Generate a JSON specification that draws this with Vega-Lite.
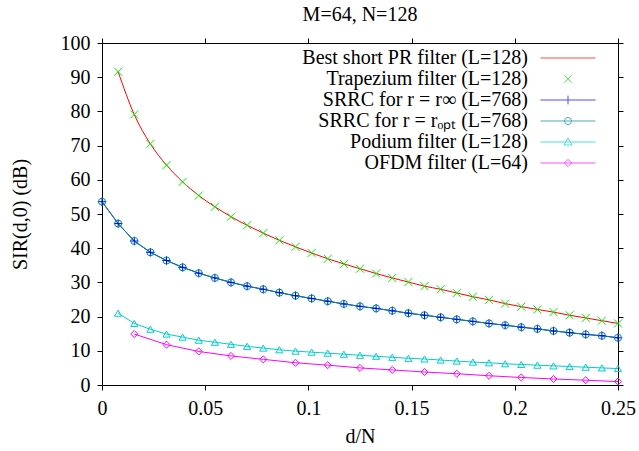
{
  "$schema": "https://vega.github.io/schema/vega-lite/v6.json",
  "width": 516,
  "height": 342,
  "autosize": {"type": "none"},
  "padding": {"left": 102, "top": 43, "right": 21, "bottom": 66},
  "background": "white",
  "title": {"text": "M=64, N=128", "font": "Liberation Serif", "fontSize": 20, "fontWeight": "normal", "color": "black", "offset": 8},
  "config": {
    "view": {"stroke": "black", "strokeWidth": 1},
    "axis": {"domain": false, "grid": false, "ticks": true, "tickColor": "#000000", "tickWidth": 1, "tickSize": 5,
      "labelFont": "Liberation Serif", "labelFontSize": 20, "labelColor": "black",
      "titleFont": "Liberation Serif", "titleFontSize": 20, "titleFontWeight": "normal", "titleColor": "black"},
    "legend": {"labelFont": "Liberation Serif", "labelFontSize": 20, "labelColor": "black", "symbolStrokeWidth": 1, "symbolSize": 256, "symbolFillColor": "transparent"}
  },
  "data": {"values": [
    {"s":"pr","x":0.0078125,"y":91.6},{"s":"pr","x":0.015625,"y":79.1},{"s":"pr","x":0.0234375,"y":70.5},{"s":"pr","x":0.03125,"y":64.3},
    {"s":"pr","x":0.0390625,"y":59.4},{"s":"pr","x":0.046875,"y":55.4},{"s":"pr","x":0.0546875,"y":52.1},{"s":"pr","x":0.0625,"y":49.2},
    {"s":"pr","x":0.0703125,"y":46.7},{"s":"pr","x":0.078125,"y":44.4},{"s":"pr","x":0.0859375,"y":42.3},{"s":"pr","x":0.09375,"y":40.4},
    {"s":"pr","x":0.1015625,"y":38.6},{"s":"pr","x":0.109375,"y":36.9},{"s":"pr","x":0.1171875,"y":35.4},{"s":"pr","x":0.125,"y":34.0},
    {"s":"pr","x":0.1328125,"y":32.6},{"s":"pr","x":0.140625,"y":31.3},{"s":"pr","x":0.1484375,"y":30.1},{"s":"pr","x":0.15625,"y":28.9},
    {"s":"pr","x":0.1640625,"y":28.0},{"s":"pr","x":0.171875,"y":26.9},{"s":"pr","x":0.1796875,"y":25.8},{"s":"pr","x":0.1875,"y":24.9},
    {"s":"pr","x":0.1953125,"y":23.8},{"s":"pr","x":0.203125,"y":22.9},{"s":"pr","x":0.2109375,"y":22.1},{"s":"pr","x":0.21875,"y":21.3},
    {"s":"pr","x":0.2265625,"y":20.4},{"s":"pr","x":0.234375,"y":19.6},{"s":"pr","x":0.2421875,"y":18.8},{"s":"pr","x":0.25,"y":18.0},
    {"s":"trap","x":0.0078125,"y":91.6},{"s":"trap","x":0.015625,"y":79.1},{"s":"trap","x":0.0234375,"y":70.5},{"s":"trap","x":0.03125,"y":64.3},
    {"s":"trap","x":0.0390625,"y":59.4},{"s":"trap","x":0.046875,"y":55.4},{"s":"trap","x":0.0546875,"y":52.1},{"s":"trap","x":0.0625,"y":49.2},
    {"s":"trap","x":0.0703125,"y":46.7},{"s":"trap","x":0.078125,"y":44.4},{"s":"trap","x":0.0859375,"y":42.3},{"s":"trap","x":0.09375,"y":40.4},
    {"s":"trap","x":0.1015625,"y":38.6},{"s":"trap","x":0.109375,"y":36.9},{"s":"trap","x":0.1171875,"y":35.4},{"s":"trap","x":0.125,"y":34.0},
    {"s":"trap","x":0.1328125,"y":32.6},{"s":"trap","x":0.140625,"y":31.3},{"s":"trap","x":0.1484375,"y":30.1},{"s":"trap","x":0.15625,"y":28.9},
    {"s":"trap","x":0.1640625,"y":28.0},{"s":"trap","x":0.171875,"y":26.9},{"s":"trap","x":0.1796875,"y":25.8},{"s":"trap","x":0.1875,"y":24.9},
    {"s":"trap","x":0.1953125,"y":23.8},{"s":"trap","x":0.203125,"y":22.9},{"s":"trap","x":0.2109375,"y":22.1},{"s":"trap","x":0.21875,"y":21.3},
    {"s":"trap","x":0.2265625,"y":20.4},{"s":"trap","x":0.234375,"y":19.6},{"s":"trap","x":0.2421875,"y":18.8},{"s":"trap","x":0.25,"y":18.0},
    {"s":"inf","x":0,"y":53.6},{"s":"inf","x":0.0078125,"y":47.2},{"s":"inf","x":0.015625,"y":42.1},{"s":"inf","x":0.0234375,"y":38.8},
    {"s":"inf","x":0.03125,"y":36.4},{"s":"inf","x":0.0390625,"y":34.4},{"s":"inf","x":0.046875,"y":32.7},{"s":"inf","x":0.0546875,"y":31.3},
    {"s":"inf","x":0.0625,"y":30.0},{"s":"inf","x":0.0703125,"y":28.9},{"s":"inf","x":0.078125,"y":28.0},{"s":"inf","x":0.0859375,"y":27.0},
    {"s":"inf","x":0.09375,"y":26.1},{"s":"inf","x":0.1015625,"y":25.3},{"s":"inf","x":0.109375,"y":24.5},{"s":"inf","x":0.1171875,"y":23.7},
    {"s":"inf","x":0.125,"y":23.0},{"s":"inf","x":0.1328125,"y":22.4},{"s":"inf","x":0.140625,"y":21.7},{"s":"inf","x":0.1484375,"y":21.0},
    {"s":"inf","x":0.15625,"y":20.4},{"s":"inf","x":0.1640625,"y":19.8},{"s":"inf","x":0.171875,"y":19.2},{"s":"inf","x":0.1796875,"y":18.6},
    {"s":"inf","x":0.1875,"y":18.0},{"s":"inf","x":0.1953125,"y":17.5},{"s":"inf","x":0.203125,"y":16.9},{"s":"inf","x":0.2109375,"y":16.4},
    {"s":"inf","x":0.21875,"y":15.8},{"s":"inf","x":0.2265625,"y":15.3},{"s":"inf","x":0.234375,"y":14.8},{"s":"inf","x":0.2421875,"y":14.4},
    {"s":"inf","x":0.25,"y":13.8},
    {"s":"opt","x":0,"y":53.6},{"s":"opt","x":0.0078125,"y":47.2},{"s":"opt","x":0.015625,"y":42.1},{"s":"opt","x":0.0234375,"y":38.8},
    {"s":"opt","x":0.03125,"y":36.4},{"s":"opt","x":0.0390625,"y":34.4},{"s":"opt","x":0.046875,"y":32.7},{"s":"opt","x":0.0546875,"y":31.3},
    {"s":"opt","x":0.0625,"y":30.0},{"s":"opt","x":0.0703125,"y":28.9},{"s":"opt","x":0.078125,"y":28.0},{"s":"opt","x":0.0859375,"y":27.0},
    {"s":"opt","x":0.09375,"y":26.1},{"s":"opt","x":0.1015625,"y":25.3},{"s":"opt","x":0.109375,"y":24.5},{"s":"opt","x":0.1171875,"y":23.7},
    {"s":"opt","x":0.125,"y":23.0},{"s":"opt","x":0.1328125,"y":22.4},{"s":"opt","x":0.140625,"y":21.7},{"s":"opt","x":0.1484375,"y":21.0},
    {"s":"opt","x":0.15625,"y":20.4},{"s":"opt","x":0.1640625,"y":19.8},{"s":"opt","x":0.171875,"y":19.2},{"s":"opt","x":0.1796875,"y":18.6},
    {"s":"opt","x":0.1875,"y":18.0},{"s":"opt","x":0.1953125,"y":17.5},{"s":"opt","x":0.203125,"y":16.9},{"s":"opt","x":0.2109375,"y":16.4},
    {"s":"opt","x":0.21875,"y":15.8},{"s":"opt","x":0.2265625,"y":15.3},{"s":"opt","x":0.234375,"y":14.8},{"s":"opt","x":0.2421875,"y":14.4},
    {"s":"opt","x":0.25,"y":13.8},
    {"s":"pod","x":0.0078125,"y":21.0},{"s":"pod","x":0.015625,"y":18.0},{"s":"pod","x":0.0234375,"y":16.3},{"s":"pod","x":0.03125,"y":14.9},
    {"s":"pod","x":0.0390625,"y":14.0},{"s":"pod","x":0.046875,"y":13.1},{"s":"pod","x":0.0546875,"y":12.5},{"s":"pod","x":0.0625,"y":11.9},
    {"s":"pod","x":0.0703125,"y":11.3},{"s":"pod","x":0.078125,"y":10.8},{"s":"pod","x":0.0859375,"y":10.3},{"s":"pod","x":0.09375,"y":9.9},
    {"s":"pod","x":0.1015625,"y":9.6},{"s":"pod","x":0.109375,"y":9.3},{"s":"pod","x":0.1171875,"y":9.0},{"s":"pod","x":0.125,"y":8.7},
    {"s":"pod","x":0.1328125,"y":8.4},{"s":"pod","x":0.140625,"y":8.1},{"s":"pod","x":0.1484375,"y":7.8},{"s":"pod","x":0.15625,"y":7.6},
    {"s":"pod","x":0.1640625,"y":7.3},{"s":"pod","x":0.171875,"y":7.0},{"s":"pod","x":0.1796875,"y":6.7},{"s":"pod","x":0.1875,"y":6.5},
    {"s":"pod","x":0.1953125,"y":6.2},{"s":"pod","x":0.203125,"y":6.0},{"s":"pod","x":0.2109375,"y":5.8},{"s":"pod","x":0.21875,"y":5.6},
    {"s":"pod","x":0.2265625,"y":5.4},{"s":"pod","x":0.234375,"y":5.2},{"s":"pod","x":0.2421875,"y":5.0},{"s":"pod","x":0.25,"y":4.8},
    {"s":"ofdm","x":0.015625,"y":14.9},{"s":"ofdm","x":0.03125,"y":11.8},{"s":"ofdm","x":0.046875,"y":9.8},{"s":"ofdm","x":0.0625,"y":8.5},
    {"s":"ofdm","x":0.078125,"y":7.5},{"s":"ofdm","x":0.09375,"y":6.5},{"s":"ofdm","x":0.109375,"y":5.8},{"s":"ofdm","x":0.125,"y":5.0},
    {"s":"ofdm","x":0.140625,"y":4.4},{"s":"ofdm","x":0.15625,"y":3.8},{"s":"ofdm","x":0.171875,"y":3.3},{"s":"ofdm","x":0.1875,"y":2.7},
    {"s":"ofdm","x":0.203125,"y":2.2},{"s":"ofdm","x":0.21875,"y":1.75},{"s":"ofdm","x":0.234375,"y":1.4},{"s":"ofdm","x":0.25,"y":1.0}
  ]},
  "resolve": {"axis": {"x": "independent", "y": "independent"}},
  "layer": [
    {
      "transform": [{"filter": {"field": "s", "equal": "inf"}}],
      "mark": {"type": "line", "strokeWidth": 1, "color": "#0000ff"},
      "encoding": {
        "x": {"field": "x", "type": "quantitative", "scale": {"domain": [0, 0.25], "nice": false, "zero": false},
          "axis": {"orient": "bottom", "title": "d/N", "values": [0, 0.05, 0.1, 0.15, 0.2, 0.25], "format": "~g", "labelPadding": 8, "titlePadding": 8, "labelFlush": false}},
        "y": {"field": "y", "type": "quantitative", "scale": {"domain": [0, 100], "nice": false},
          "axis": {"orient": "left", "title": "SIR(d,0) (dB)", "values": [0,10,20,30,40,50,60,70,80,90,100], "labelPadding": 7, "titlePadding": 30}}
      }
    },
    {
      "transform": [{"filter": {"field": "s", "equal": "pr"}}],
      "mark": {"type": "line", "strokeWidth": 1, "interpolate": "monotone", "color": "#ff0000"},
      "encoding": {
        "x": {"field": "x", "type": "quantitative", "axis": {"orient": "top", "labels": false, "title": null, "values": [0, 0.05, 0.1, 0.15, 0.2, 0.25]}},
        "y": {"field": "y", "type": "quantitative", "axis": {"orient": "right", "labels": false, "title": null, "values": [0,10,20,30,40,50,60,70,80,90,100]}}
      }
    },
    {
      "transform": [{"filter": {"field": "s", "equal": "opt"}}],
      "mark": {"type": "line", "strokeWidth": 1, "color": "#008b8b"},
      "encoding": {
        "x": {"field": "x", "type": "quantitative", "axis": null},
        "y": {"field": "y", "type": "quantitative", "axis": null}
      }
    },
    {
      "transform": [{"filter": {"field": "s", "equal": "pod"}}],
      "mark": {"type": "line", "strokeWidth": 1, "color": "#00ced1"},
      "encoding": {
        "x": {"field": "x", "type": "quantitative", "axis": null},
        "y": {"field": "y", "type": "quantitative", "axis": null}
      }
    },
    {
      "transform": [{"filter": {"field": "s", "equal": "ofdm"}}],
      "mark": {"type": "line", "strokeWidth": 1, "color": "#ff00ff"},
      "encoding": {
        "x": {"field": "x", "type": "quantitative", "axis": null},
        "y": {"field": "y", "type": "quantitative", "axis": null}
      }
    },
    {
      "transform": [{"filter": {"field": "s", "equal": "trap"}}],
      "mark": {"type": "point", "filled": false, "strokeWidth": 1, "color": "#00ee00", "shape": "M-1,-1L1,1M-1,1L1,-1", "size": 64, "opacity": 1},
      "encoding": {
        "x": {"field": "x", "type": "quantitative", "axis": null},
        "y": {"field": "y", "type": "quantitative", "axis": null}
      }
    },
    {
      "transform": [{"filter": {"field": "s", "equal": "inf"}}],
      "mark": {"type": "point", "filled": false, "strokeWidth": 1, "color": "#0000ff", "shape": "M-1,0H1M0,-1V1", "size": 72, "opacity": 1},
      "encoding": {
        "x": {"field": "x", "type": "quantitative", "axis": null},
        "y": {"field": "y", "type": "quantitative", "axis": null}
      }
    },
    {
      "transform": [{"filter": {"field": "s", "equal": "opt"}}],
      "mark": {"type": "point", "filled": false, "strokeWidth": 1, "color": "#008b8b", "shape": "circle", "size": 50, "opacity": 1},
      "encoding": {
        "x": {"field": "x", "type": "quantitative", "axis": null},
        "y": {"field": "y", "type": "quantitative", "axis": null}
      }
    },
    {
      "transform": [{"filter": {"field": "s", "equal": "pod"}}],
      "mark": {"type": "point", "filled": false, "strokeWidth": 1, "color": "#00ced1", "shape": "triangle-up", "size": 50, "opacity": 1},
      "encoding": {
        "x": {"field": "x", "type": "quantitative", "axis": null},
        "y": {"field": "y", "type": "quantitative", "axis": null}
      }
    },
    {
      "transform": [{"filter": {"field": "s", "equal": "ofdm"}}],
      "mark": {"type": "point", "filled": false, "strokeWidth": 1, "color": "#ff00ff", "shape": "diamond", "size": 50, "opacity": 1},
      "encoding": {
        "x": {"field": "x", "type": "quantitative", "axis": null},
        "y": {"field": "y", "type": "quantitative", "axis": null}
      }
    },
    {
      "transform": [{"filter": "datum.y < -1000"}],
      "mark": {"type": "point", "filled": false, "strokeWidth": 1},
      "encoding": {
        "x": {"field": "x", "type": "quantitative", "axis": null},
        "y": {"field": "y", "type": "quantitative", "axis": null},
        "color": {"field": "s", "type": "nominal",
          "scale": {"domain": ["pr", "trap", "inf", "opt", "pod", "ofdm"], "range": ["#ff0000", "#00ee00", "#0000ff", "#008b8b", "#00ced1", "#ff00ff"]},
          "legend": {"orient": "none", "legendX": 456, "legendY": 5, "title": null, "padding": 0, "rowPadding": 1, "labelFontSize": 20, "labelLimit": 400, "labelAlign": "right", "labelOffset": -50,
            "labelExpr": "datum.value == 'pr' ? 'Best short PR filter (L=128)' : datum.value == 'trap' ? 'Trapezium filter (L=128)' : datum.value == 'inf' ? 'SRRC for r = r∞ (L=768)' : datum.value == 'opt' ? 'SRRC for r = rₒₚₜ (L=768)' : datum.value == 'pod' ? 'Podium filter (L=128)' : 'OFDM filter (L=64)'"}},
        "shape": {"field": "s", "type": "nominal",
          "scale": {"domain": ["pr", "trap", "inf", "opt", "pod", "ofdm"], "range": [
            "M-3.44,0H3.44",
            "M-0.45,-0.45L0.45,0.45M-0.45,0.45L0.45,-0.45",
            "M-3.44,0H3.44M0,-0.55V0.55",
            "M-3.44,0H3.44M-0.45,0L-0.32,-0.32L0,-0.45L0.32,-0.32L0.45,0L0.32,0.32L0,0.45L-0.32,0.32Z",
            "M-3.44,0H3.44M-0.5,0.375L0,-0.5L0.5,0.375Z",
            "M-3.44,0H3.44M-0.45,0L0,-0.45L0.45,0L0,0.45Z"]},
          "legend": {"orient": "none", "legendX": 456, "legendY": 5, "title": null, "padding": 0, "rowPadding": 1, "labelFontSize": 20, "labelLimit": 400, "labelAlign": "right", "labelOffset": -50,
            "labelExpr": "datum.value == 'pr' ? 'Best short PR filter (L=128)' : datum.value == 'trap' ? 'Trapezium filter (L=128)' : datum.value == 'inf' ? 'SRRC for r = r∞ (L=768)' : datum.value == 'opt' ? 'SRRC for r = rₒₚₜ (L=768)' : datum.value == 'pod' ? 'Podium filter (L=128)' : 'OFDM filter (L=64)'"}}
      }
    }
  ]
}
